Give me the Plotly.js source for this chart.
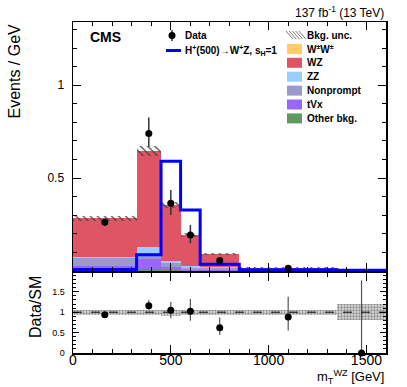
<!DOCTYPE html>
<html>
<head>
<meta charset="utf-8">
<script src="https://cdn.plot.ly/plotly-3.0.1.min.js"></script>
<style>
  html, body { margin: 0; padding: 0; background: #fff; }
  #chart { width: 407px; height: 387px; }
</style>
</head>
<body>
<div id="chart"></div>
<script>
// bin edges in m_T^WZ [GeV]
var edges = [0, 325, 450, 550, 650, 850, 1350, 1600];

// stacked backgrounds, Events / GeV
var otherBkg  = [0.003, 0.012, 0.004, 0.002, 0.001, 0.0003, 0.0001];
var tVx       = [0.022, 0.050, 0.016, 0.006, 0.004, 0.0008, 0.0001];
var nonprompt = [0.044, 0.034, 0.022, 0.010, 0.012, 0.0015, 0.0002];
var zz        = [0.008, 0.032, 0.013, 0.007, 0.005, 0.0010, 0.0001];
var wz        = [0.206, 0.519, 0.300, 0.169, 0.069, 0.0143, 0.0016];
var wpwp      = [0.0002, 0.0003, 0.0002, 0.0001, 0.0001, 0.00005, 0.00002];
var bkgUnc    = [0.013, 0.026, 0.015, 0.010, 0.006, 0.0015, 0.0004];

// signal H+(500) -> W+Z, s_H = 1
var signal = [0.008, 0.087, 0.590, 0.328, 0.036, 0.0065, 0.004];

// data
var dataY   = [0.262, 0.740, 0.364, 0.194, 0.057, 0.015, null];
var dataUp  = [0.020, 0.086, 0.072, 0.054, 0.016, 0.008, 0];
var dataDn  = [0.020, 0.072, 0.063, 0.045, 0.014, 0.006, 0];

// ratio panel
var ratio    = [0.94, 1.16, 1.05, 1.02, 0.62, 0.88, 0];
var ratioUp  = [0.05, 0.13, 0.20, 0.30, 0.25, 0.50, 1.78];
var ratioDn  = [0.05, 0.10, 0.20, 0.23, 0.18, 0.33, 0];
var bandLo   = [0.94, 0.94, 0.91, 0.94, 0.93, 0.94, 0.80];
var bandHi   = [1.06, 1.06, 1.05, 1.06, 1.05, 1.06, 1.20];

var centers = edges.slice(0, -1).map(function (e, i) { return (e + edges[i + 1]) / 2; });
var widths  = edges.slice(0, -1).map(function (e, i) { return edges[i + 1] - e; });

var bkgs = [
  {name: 'Other bkg.', y: otherBkg,  color: '#5f9960'},
  {name: 'tVx',        y: tVx,       color: '#9966ff'},
  {name: 'Nonprompt',  y: nonprompt, color: '#9999cc'},
  {name: 'ZZ',         y: zz,        color: '#99ccff'},
  {name: 'WZ',         y: wz,        color: '#e05566'},
  {name: 'W<sup>±</sup>W<sup>±</sup>', y: wpwp, color: '#ffcc66'}
];

var total = centers.map(function (c, i) {
  return bkgs.reduce(function (s, b) { return s + b.y[i]; }, 0);
});

var traces = [];

bkgs.forEach(function (b) {
  traces.push({
    type: 'bar', x: centers, y: b.y, width: widths,
    marker: {color: b.color, line: {width: 0}},
    xaxis: 'x', yaxis: 'y', showlegend: false, hoverinfo: 'skip'
  });
});

// hatched background uncertainty
traces.push({
  type: 'bar', x: centers, width: widths,
  base: total.map(function (t, i) { return t - bkgUnc[i]; }),
  y: bkgUnc.map(function (u) { return 2 * u; }),
  marker: {
    color: 'rgba(0,0,0,0)', line: {width: 0},
    pattern: {shape: '\\', fgcolor: '#444', bgcolor: 'rgba(0,0,0,0)', size: 5, solidity: 0.25}
  },
  xaxis: 'x', yaxis: 'y', showlegend: false, hoverinfo: 'skip'
});

// signal as a step line
traces.push({
  type: 'scatter', mode: 'lines',
  x: edges, y: signal.concat([signal[signal.length - 1]]),
  line: {shape: 'hv', color: '#0000ff', width: 3},
  xaxis: 'x', yaxis: 'y', showlegend: false, hoverinfo: 'skip'
});

traces.push({
  type: 'scatter', mode: 'markers', x: centers, y: dataY,
  marker: {color: '#000', size: 7},
  error_y: {type: 'data', symmetric: false, array: dataUp, arrayminus: dataDn,
            color: '#333', thickness: 1.5, width: 0},
  xaxis: 'x', yaxis: 'y', showlegend: false, hoverinfo: 'skip'
});

// ratio band
traces.push({
  type: 'bar', x: centers, width: widths, base: bandLo,
  y: bandHi.map(function (h, i) { return h - bandLo[i]; }),
  marker: {
    color: '#d0d0d0', line: {width: 0},
    pattern: {shape: '.', fgcolor: '#8a8a8a', bgcolor: '#dcdcdc', size: 3, solidity: 0.45}
  },
  xaxis: 'x2', yaxis: 'y2', showlegend: false, hoverinfo: 'skip'
});

traces.push({
  type: 'scatter', mode: 'markers', x: centers, y: ratio,
  marker: {color: '#000', size: 7}, cliponaxis: false,
  error_y: {type: 'data', symmetric: false, array: ratioUp, arrayminus: ratioDn,
            color: '#555', thickness: 1.2, width: 0},
  xaxis: 'x2', yaxis: 'y2', showlegend: false, hoverinfo: 'skip'
});

// pixel -> paper helpers for the annotations / legend
var L = 73, R = 386, T = 22, B = 353;
function px(x) { return (x - L) / (R - L); }
function py(y) { return (B - y) / (B - T); }

var font = 'Liberation Sans, Arial, Helvetica, sans-serif';

var annotations = [
  {text: '<b>CMS</b>', x: px(88), y: py(37), xanchor: 'left', yanchor: 'middle',
   font: {size: 14}},
  {text: '137 fb<sup>-1</sup> (13 TeV)', x: 1, y: py(12), xanchor: 'right', yanchor: 'middle',
   font: {size: 12}},
  {text: 'Events / GeV', x: px(14), y: 1, xanchor: 'center', yanchor: 'top',
   textangle: -90, font: {size: 16}},
  {text: 'Data/SM', x: px(35), y: py(307), xanchor: 'center', yanchor: 'middle',
   textangle: -90, font: {size: 16}},
  {text: 'm<sub>T</sub><sup>WZ</sup> [GeV]', x: 1, y: py(387.5), xanchor: 'right', yanchor: 'bottom',
   font: {size: 13}},
  {text: '<b>Data</b>', x: px(183), y: py(35.5), xanchor: 'left', yanchor: 'middle', font: {size: 10}},
  {text: '<b>H<sup>+</sup>(500)→W<sup>+</sup>Z, s<sub>H</sub>=1</b>', x: px(183), y: py(50.5),
   xanchor: 'left', yanchor: 'middle', font: {size: 10}}
];

var shapes = [
  // dashed unity line in the ratio panel
  {type: 'line', xref: 'x2 domain', yref: 'y2', x0: 0, x1: 1, y0: 1, y1: 1,
   line: {color: '#000', width: 1, dash: 'dash'}},
  // data legend marker
  {type: 'line', xref: 'paper', yref: 'paper', x0: px(172), x1: px(172), y0: py(30), y1: py(41),
   line: {color: '#333', width: 1.5}},
  {type: 'circle', xref: 'paper', yref: 'paper', x0: px(168.5), x1: px(175.5), y0: py(32), y1: py(39),
   fillcolor: '#000', line: {width: 0}},
  // signal legend line
  {type: 'line', xref: 'paper', yref: 'paper', x0: px(166), x1: px(181), y0: py(50.5), y1: py(50.5),
   line: {color: '#0000ff', width: 3}}
];

// right legend column
var legendRows = [{name: 'Bkg. unc.', color: null}].concat(bkgs.slice().reverse());
legendRows.forEach(function (row, i) {
  var yc = 35 + i * 13.9;
  if (row.color) {
    shapes.push({type: 'rect', xref: 'paper', yref: 'paper',
      x0: px(287), x1: px(302), y0: py(yc - 5), y1: py(yc + 5),
      fillcolor: row.color, line: {width: 0}});
  } else {
    for (var k = 0; k < 5; k++) {
      var x0 = 286 + k * 3.2;
      shapes.push({type: 'line', xref: 'paper', yref: 'paper',
        x0: px(x0), x1: px(x0 + 7), y0: py(yc - 4), y1: py(yc + 4),
        line: {color: '#777', width: 1}});
    }
  }
  annotations.push({text: '<b>' + row.name + '</b>', x: px(305), y: py(yc),
    xanchor: 'left', yanchor: 'middle', font: {size: 10}});
});

annotations.forEach(function (a) {
  a.xref = 'paper'; a.yref = 'paper'; a.showarrow = false;
  a.font.family = font; a.font.color = '#000';
});

var axisCommon = {
  showline: true, linecolor: '#000', linewidth: 1.5, mirror: 'ticks',
  ticks: 'inside', tickcolor: '#000', tickwidth: 1, ticklen: 8,
  showgrid: false, zeroline: false, fixedrange: true
};

var layout = {
  width: 407, height: 387,
  margin: {l: L, r: 407 - R, t: T, b: 387 - B, pad: 0},
  paper_bgcolor: '#fff', plot_bgcolor: '#fff',
  font: {family: font, color: '#000'},
  barmode: 'stack', bargap: 0, showlegend: false,
  xaxis: Object.assign({}, axisCommon, {
    domain: [0, 1], anchor: 'y', range: [0, 1600], dtick: 500, tick0: 0,
    showticklabels: false,
    minor: {dtick: 100, tick0: 0, ticks: 'inside', ticklen: 4, tickcolor: '#000'}
  }),
  yaxis: Object.assign({}, axisCommon, {
    domain: [(B - 271) / (B - T), 1], anchor: 'x', range: [0, 1.34],
    tickmode: 'array', tickvals: [0.5, 1], ticktext: ['0.5', '1'],
    tickfont: {size: 12}, ticklabelstandoff: 5,
    minor: {dtick: 0.1, tick0: 0, ticks: 'inside', ticklen: 4, tickcolor: '#000'}
  }),
  xaxis2: Object.assign({}, axisCommon, {
    domain: [0, 1], anchor: 'y2', range: [0, 1600], dtick: 500, tick0: 0,
    tickfont: {size: 14}, ticklabelstandoff: -6,
    minor: {dtick: 100, tick0: 0, ticks: 'inside', ticklen: 4, tickcolor: '#000'}
  }),
  yaxis2: Object.assign({}, axisCommon, {
    domain: [0, (B - 273) / (B - T)], anchor: 'x2', range: [0, 1.96],
    tickmode: 'array', tickvals: [0, 0.5, 1, 1.5], ticktext: ['0', '0.5', '1', '1.5'],
    tickfont: {size: 9}, ticklabelstandoff: 5, ticklen: 6,
    minor: {dtick: 0.1, tick0: 0, ticks: 'inside', ticklen: 3, tickcolor: '#000'}
  }),
  annotations: annotations,
  shapes: shapes
};

var config = {displayModeBar: false, staticPlot: true};

Plotly.newPlot('chart', traces, layout, config);
</script>
</body>
</html>
